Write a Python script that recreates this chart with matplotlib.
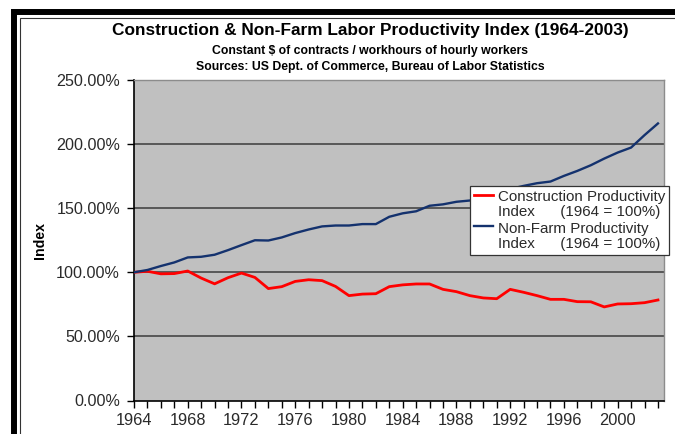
import numpy as np
import matplotlib.pyplot as plt
from matplotlib.patches import Rectangle
from matplotlib.ticker import FuncFormatter
from matplotlib.legend_handler import HandlerLine2D

years = list(range(1964, 2004))

# construction productivity index, % of 1964
construction = [100.0, 100.8, 98.8, 99.0, 101.0, 95.5, 91.0, 95.8, 99.4, 96.0,
                87.3, 88.8, 92.9, 94.2, 93.5, 89.0, 81.8, 83.0, 83.3, 88.8,
                90.2, 90.9, 90.9, 86.7, 84.9, 81.8, 80.0, 79.4, 86.7, 84.4,
                81.8, 78.9, 78.9, 77.1, 77.0, 73.0, 75.3, 75.5, 76.3, 78.4]

# non-farm productivity index, % of 1964
nonfarm = [100.0, 101.8, 104.9, 107.7, 111.6, 112.1, 113.7, 117.3, 121.2, 125.0,
           124.8, 127.2, 130.6, 133.4, 135.8, 136.5, 136.5, 137.6, 137.6, 143.3,
           146.0, 147.6, 151.9, 153.0, 155.0, 156.0, 158.5, 160.5, 165.0, 167.4,
           169.5, 170.8, 175.2, 179.1, 183.5, 188.7, 193.4, 197.3, 207.0, 216.1]

ytick_vals = [0, 50, 100, 150, 200, 250]
xtick_labels = list(range(1964, 2004, 4))

plt.rcParams['font.family'] = ['Liberation Sans', 'DejaVu Sans']


class TopLine(HandlerLine2D):
    # put the legend line next to the first line of a two-line label
    def create_artists(self, legend, orig_handle, xdescent, ydescent, width, height, fontsize, trans):
        arts = super().create_artists(legend, orig_handle, xdescent, ydescent, width, height, fontsize, trans)
        for a in arts:
            a.set_ydata(np.asarray(a.get_ydata()) + 0.68 * fontsize)
        return arts


W, H = 675, 434
fig = plt.figure(figsize=(W / 100, H / 100), dpi=100)
fig.patch.set_facecolor("white")

# outer frame (runs off the right and bottom edges)
fig.add_artist(Rectangle((14.5 / W, -0.2), 1.5, (H - 12) / H + 0.2, transform=fig.transFigure,
                         fill=False, edgecolor="black", linewidth=4.3))
fig.add_artist(Rectangle((19.5 / W, -0.2), 1.5, (H - 18) / H + 0.2, transform=fig.transFigure,
                         fill=False, edgecolor="#333333", linewidth=0.8))

ax = fig.add_axes([134 / W, (H - 400.5) / H, (664 - 134) / W, (400.5 - 80) / H])
ax.set_facecolor("#c0c0c0")

for v in ytick_vals[1:-1]:
    ax.axhline(v, color="#3c3c3c", linewidth=1.1, zorder=1)

ax.plot(years, construction, color="#ff0000", linewidth=2.0, zorder=3,
        label="Construction Productivity\nIndex      (1964 = 100%)")
ax.plot(years, nonfarm, color="#14326e", linewidth=1.7, zorder=3,
        label="Non-Farm Productivity\nIndex      (1964 = 100%)")

ax.set_xlim(1964, 2003.45)
ax.set_ylim(0, 250)
ax.set_yticks(ytick_vals)
ax.yaxis.set_major_formatter(FuncFormatter(lambda v, p: f"{v:.2f}%"))
ax.set_xticks(years)
ax.set_xticklabels([str(y) if y in xtick_labels else "" for y in years])

ax.tick_params(axis="both", direction="out", length=5, width=1, color="black",
               labelcolor="#2a2a2a")
ax.tick_params(axis="x", pad=4, labelsize=11.8)
ax.tick_params(axis="y", pad=5, labelsize=11.6)

for side in ["top", "right"]:
    ax.spines[side].set_color("#8c8c8c")
    ax.spines[side].set_linewidth(1)
for side in ["left", "bottom"]:
    ax.spines[side].set_color("black")
    ax.spines[side].set_linewidth(1.2)

ax.set_ylabel("Index", fontsize=10.2, fontweight="bold", labelpad=7)

leg = ax.legend(loc="upper left", bbox_to_anchor=((470 - 134) / (664 - 134), (400.5 - 186) / (400.5 - 80)),
                fontsize=10.9, frameon=True, fancybox=False, handlelength=1.25,
                handletextpad=0.35, borderpad=0.25, labelspacing=0.15,
                borderaxespad=0, framealpha=1,
                handler_map={plt.Line2D: TopLine()})
leg.get_frame().set_edgecolor("#333333")
leg.get_frame().set_linewidth(0.9)
for t in leg.get_texts():
    t.set_color("#2a2a2a")
    t.set_linespacing(1.15)

fig.text(370 / W, 1 - 31 / H, "Construction & Non-Farm Labor Productivity Index (1964-2003)",
         ha="center", va="center", fontsize=12.4, fontweight="bold")
fig.text(370 / W, 1 - 51 / H, "Constant $ of contracts / workhours of hourly workers",
         ha="center", va="center", fontsize=8.8, fontweight="bold")
fig.text(370 / W, 1 - 67 / H, "Sources: US Dept. of Commerce, Bureau of Labor Statistics",
         ha="center", va="center", fontsize=8.8, fontweight="bold")

fig.savefig("out.png", dpi=100)
